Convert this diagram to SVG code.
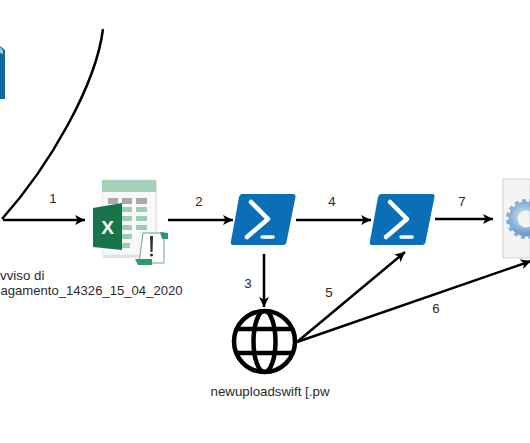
<svg xmlns="http://www.w3.org/2000/svg" width="530" height="443" viewBox="0 0 530 443">
<style>
.t{font-family:"Liberation Sans",Arial,sans-serif;font-size:13.300px;fill:#2a2a2a}
.c{fill:none;stroke:#000;stroke-width:2.500;marker-end:url(#a)}
.g{fill:none;stroke:#000;stroke-width:4.500}
.cell{fill:#9dcdb5}
.head{fill:#aaa}
</style>
<defs>
<marker id="a" markerUnits="userSpaceOnUse" markerWidth="12" markerHeight="12" refX="10" refY="5" orient="auto"><path d="M0 0L10 5L0 10L2.500 5Z" fill="#000"/></marker>
<radialGradient id="gear" cx="0.400" cy="0.400" r="0.700"><stop offset="0" stop-color="#d8e8f6"/><stop offset="1" stop-color="#6f9ccb"/></radialGradient>
<g id="ps"><path d="M11 0H62Q65 0 64.500 3L55.500 48Q55 51 52 51H2Q-1 51 0 47L8 3Q9 0 11 0Z" fill="#0b6fb8"/><path d="M20 8L37 25L16 43" fill="none" stroke="#fff" stroke-width="4.500" stroke-linecap="round" stroke-linejoin="round"/><path d="M31 43H42" stroke="#fff" stroke-width="3.500" stroke-linecap="round"/></g>
</defs>
<g id="connectors">
<path d="M103 29C96 85 50 165 2 219" fill="none" stroke="#000" stroke-width="2.500"/>
<path class="c" d="M3 220H85"/>
<path class="c" d="M168 220H233"/>
<path class="c" d="M296 220H371"/>
<path class="c" d="M264 254V307"/>
<path class="c" d="M297 342L405 252"/>
<path class="c" d="M297 342L531 261"/>
<path class="c" d="M435 219H493"/>
</g>
<g id="db"><path d="M0 46L5 50V99H0Z" fill="#12689c"/><path d="M0 47L3 50V54L0 53Z" fill="#9cc4dc"/></g>
<g id="excel">
<path d="M103 181H157V258H103Z" fill="#e4e4e4"/>
<path d="M102 180H156V255H102Z" fill="#f8f8f8" stroke="#ddd" stroke-width=".6"/>
<path d="M102 180H156V192H102Z" fill="#a5d1b8"/>
<path class="head" d="M108 198h10v6h-10zM122 198h10v6h-10zM136 198h11v6h-11z"/>
<path class="cell" d="M122 207h10v5h-10zM136 207h11v5h-11zM122 216h10v5h-10zM136 216h11v5h-11zM122 225h10v5h-10zM136 225h11v5h-11zM122 243h8v5h-8zM122 234h10v5h-10z"/>
<path d="M93 208L122 203V250L93 247Z" fill="#19744a"/>
<text x="107.500" y="234" text-anchor="middle" style="font-family:'Liberation Sans',Arial,sans-serif;font-size:19px;font-weight:bold;fill:#fff">X</text>
<path d="M143 233H164V263H139Z" fill="#fff" stroke="#6aa88a" stroke-width="1"/>
<path d="M135 259H152V265H138Z" fill="#2d9a68"/>
<path d="M160 232L168 233V239H162Z" fill="#2d9a68"/>
<path d="M150 236H153L152.500 252H150.500Z" fill="#333"/><circle cx="151.500" cy="255" r="1.600" fill="#333"/>
</g>
<g id="ps1"><use href="#ps" x="231" y="194"/></g>
<g id="ps2"><use href="#ps" x="370" y="194"/></g>
<g id="globe">
<circle class="g" cx="264.500" cy="341.500" r="30.500"/>
<ellipse class="g" cx="264.500" cy="341.500" rx="11" ry="30.500"/>
<path class="g" d="M236 329H293M236 353H293"/>
</g>
<g id="file">
<path d="M503 179H530V258H503Z" fill="#f4f4f4" stroke="#d2d2d2"/>
<circle cx="526" cy="219" r="13" fill="none" stroke="url(#gear)" stroke-width="9"/>
<circle cx="526" cy="219" r="18.500" fill="none" stroke="#86aed4" stroke-width="3" stroke-dasharray="4 3.500"/>
</g>
<g id="labels">
<text class="t" x="53" y="203" text-anchor="middle">1</text>
<text class="t" x="199" y="206" text-anchor="middle">2</text>
<text class="t" x="248" y="288" text-anchor="middle">3</text>
<text class="t" x="332" y="206" text-anchor="middle">4</text>
<text class="t" x="329" y="297" text-anchor="middle">5</text>
<text class="t" x="436" y="313" text-anchor="middle">6</text>
<text class="t" x="462" y="206" text-anchor="middle">7</text>
<text class="t" x="270" y="396" text-anchor="middle">newuploadswift [.pw</text>
<text class="t" x="0" y="280">vviso di</text>
<text class="t" x="0.500" y="295" style="font-size:13.100px">agamento_14326_15_04_2020</text>
</g>
</svg>
